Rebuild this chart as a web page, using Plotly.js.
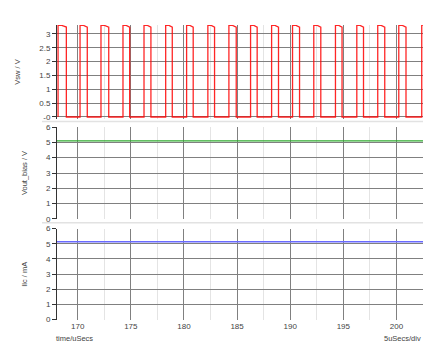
<!DOCTYPE html>
<html>
<head>
<meta charset="utf-8">
<script src="https://cdn.plot.ly/plotly-3.0.1.min.js"></script>
<style>html,body{margin:0;padding:0;background:#fff;}#chart{width:444px;height:360px;}</style>
</head>
<body>
<div id="chart"></div>
<script>
// Switching node voltage Vsw (V) vs time (uSecs)
const timeVsw = [
  168.15,168.15,168.50,168.93,168.93,
  170.22,170.22,170.55,170.90,170.90,
  172.19,172.19,172.52,172.92,172.92,
  174.26,174.26,174.57,174.89,174.89,
  176.24,176.24,176.56,176.89,176.89,
  178.28,178.28,178.59,178.90,178.90,
  180.25,180.25,180.56,180.87,180.87,
  182.25,182.25,182.57,182.88,182.88,
  184.23,184.23,184.57,184.92,184.92,
  186.27,186.27,186.58,186.89,186.89,
  188.25,188.25,188.57,188.90,188.90,
  190.22,190.22,190.55,190.88,190.88,
  192.22,192.22,192.55,192.88,192.88,
  194.26,194.26,194.57,194.88,194.88,
  196.27,196.27,196.58,196.90,196.90,
  198.24,198.24,198.57,198.90,198.90,
  200.22,200.22,200.56,200.90,200.90,
  202.38,202.38,202.50
];
const vsw = [
  0,3.32,3.31,3.25,0,
  0,3.32,3.31,3.25,0,
  0,3.32,3.31,3.25,0,
  0,3.32,3.31,3.25,0,
  0,3.32,3.31,3.25,0,
  0,3.32,3.31,3.25,0,
  0,3.32,3.31,3.25,0,
  0,3.32,3.31,3.25,0,
  0,3.32,3.31,3.25,0,
  0,3.32,3.31,3.25,0,
  0,3.32,3.31,3.25,0,
  0,3.32,3.31,3.25,0,
  0,3.32,3.31,3.25,0,
  0,3.32,3.31,3.25,0,
  0,3.32,3.31,3.25,0,
  0,3.32,3.31,3.25,0,
  0,3.32,3.31,3.25,0,
  0,3.32,3.32
];
// Output bias voltage (V) and inductor current (mA)
const timeFlat = [168.05, 202.5];
const voutBias = [5.09, 5.09];
const ilc = [5.13, 5.13];

const vswTicks = [0, 0.5, 1, 1.5, 2, 2.5, 3];
const vswTickText = ['-0', '0.5', '1', '1.5', '2', '2.5', '3'];
const sixTicks = [0, 1, 2, 3, 4, 5, 6];
const timeTicks = [170, 175, 180, 185, 190, 195, 200];

const FONT = 'Liberation Sans, Arial, sans-serif';
const gridC = '#808080';
const minorC = '#e4e4e4';

const xBase = {
  range: [168.05, 202.5], tickvals: timeTicks, showgrid: true, gridcolor: gridC, gridwidth: 1,
  minor: {dtick: 2.5, tick0: 167.5, showgrid: true, gridcolor: minorC, gridwidth: 1},
  zeroline: false, showline: false, ticks: '', fixedrange: true
};
const yBase = {
  showgrid: true, gridcolor: gridC, gridwidth: 1, zeroline: false, showline: true,
  linecolor: '#333', linewidth: 1, ticks: 'outside', ticklen: 4, tickcolor: '#333',
  tickfont: {family: FONT, size: 8, color: '#444'}, title: {font: {family: FONT, size: 7.5, color: '#444'}}
};

const data = [
  {x: timeVsw, y: vsw, xaxis: 'x', yaxis: 'y', mode: 'lines', line: {color: 'rgba(255,0,0,0.85)', width: 1.3}, hoverinfo: 'skip'},
  {x: timeFlat, y: voutBias, xaxis: 'x2', yaxis: 'y2', mode: 'lines', line: {color: '#2eaa2e', width: 1.3}, hoverinfo: 'skip'},
  {x: timeFlat, y: ilc, xaxis: 'x3', yaxis: 'y3', mode: 'lines', line: {color: '#6a6aff', width: 1.6}, hoverinfo: 'skip'}
];

const layout = {
  width: 444, height: 360, showlegend: false,
  paper_bgcolor: '#fff', plot_bgcolor: '#fff',
  margin: {l: 57, r: 21, t: 25, b: 40},
  font: {family: FONT, size: 8, color: '#444'},
  xaxis: Object.assign({}, xBase, {anchor: 'y', showticklabels: false}),
  xaxis2: Object.assign({}, xBase, {anchor: 'y2', matches: 'x', showticklabels: false}),
  xaxis3: Object.assign({}, xBase, {anchor: 'y3', matches: 'x', showticklabels: true, tickfont: {family: FONT, size: 8, color: '#444'}}),
  yaxis: Object.assign({}, yBase, {domain: [0.6814, 1], range: [-0.072, 3.325], tickvals: vswTicks, ticktext: vswTickText, title: {text: 'Vsw / V', font: yBase.title.font, standoff: 17}}),
  yaxis2: Object.assign({}, yBase, {domain: [0.3424, 0.6542], range: [0, 6], tickvals: sixTicks, title: {text: 'Vout_bias / V', font: yBase.title.font, standoff: 17}}),
  yaxis3: Object.assign({}, yBase, {domain: [0, 0.310], range: [-0.03, 6], tickvals: sixTicks, title: {text: 'Ilc / mA', font: yBase.title.font, standoff: 17}}),
  shapes: [
    {type: 'line', xref: 'paper', yref: 'paper', x0: -0.041, x1: 1.0, y0: 0.673, y1: 0.673, line: {color: '#e2e2e2', width: 1.5}},
    {type: 'line', xref: 'paper', yref: 'paper', x0: -0.041, x1: 1.0, y0: 0.330, y1: 0.330, line: {color: '#e2e2e2', width: 1.5}}
  ],
  annotations: [
    {text: 'time/uSecs', xref: 'paper', yref: 'paper', x: -0.008, y: -0.064, xanchor: 'left', yanchor: 'middle', showarrow: false, font: {family: FONT, size: 7.5, color: '#444'}},
    {text: '5uSecs/div', xref: 'paper', yref: 'paper', x: 1.0, y: -0.064, xanchor: 'right', yanchor: 'middle', showarrow: false, font: {family: FONT, size: 7.5, color: '#444'}}
  ]
};

Plotly.newPlot('chart', data, layout, {staticPlot: true, displayModeBar: false});
</script>
</body>
</html>
